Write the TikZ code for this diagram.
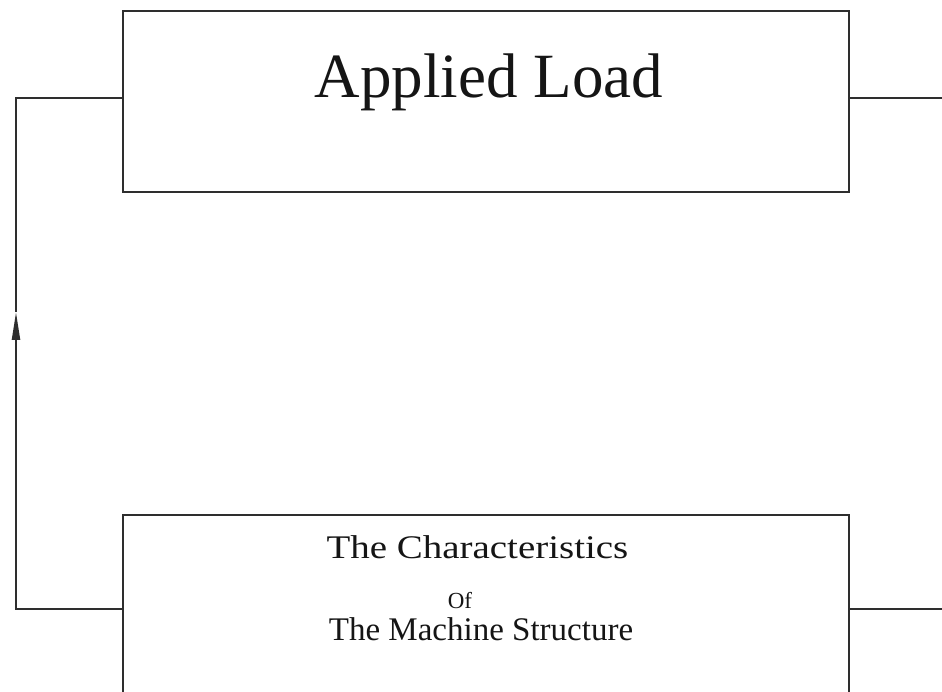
\documentclass[tikz,border=0pt]{standalone}
\usepackage{fontspec}
\setmainfont{Liberation Serif}
\usetikzlibrary{arrows.meta}
\definecolor{linec}{HTML}{2E2E2E}
\definecolor{textc}{HTML}{151515}
\begin{document}
\begin{tikzpicture}[x=1pt,y=1pt,
  box/.style={draw=linec, line width=2.2pt, minimum width=726pt, inner sep=0pt},
  conn/.style={draw=linec, line width=2.2pt},
  lbl/.style={anchor=base, text=textc, inner sep=0pt}
]
\clip (0,0) rectangle (942,691);
\fill[white] (0,0) rectangle (942,691);
\node[box, minimum height=181pt] (top) at (486,589.5) {};
\node[box, minimum height=200pt, anchor=north] (bot) at (486,177) {};
\node[lbl, font=\fontsize{63}{63}\selectfont] (t1) at (489,593) {Applied Load};
\node[lbl, font=\fontsize{33}{33}\selectfont, text depth=0pt] (b1) at (477.5,133) {\scalebox{1.18}[1]{The Characteristics}};
\node[lbl, font=\fontsize{23}{23}\selectfont, text height=16pt, text depth=0pt] (b2) at (460,83) {Of};
\node[lbl, font=\fontsize{33}{33}\selectfont, text height=22pt] (b3) at (481,51) {The Machine Structure};
\coordinate (lt) at (16,593);
\coordinate (lb) at (16,82);
\coordinate (arr) at (16,379);
\coordinate (rt) at (942,593);
\coordinate (rb) at (942,82);
\draw[conn,-{Triangle[length=28pt,width=8pt]}] (bot.west |- lb) -- (lb) -- (arr);
\draw[conn] (arr) -- (lt) -- (top.west |- lt);
\draw[conn] (top.east |- rt) -- (rt);
\draw[conn] (bot.east |- rb) -- (rb);
\end{tikzpicture}
\end{document}
